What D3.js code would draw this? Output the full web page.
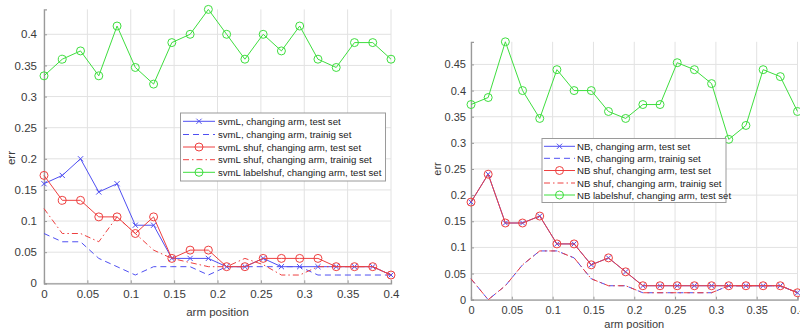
<!DOCTYPE html>
<html><head><meta charset="utf-8">
<script src="https://cdn.jsdelivr.net/npm/d3@7"></script>
<style>body{margin:0;background:#fff}svg{display:block}text{font-family:"Liberation Sans",Arial,Helvetica,sans-serif}</style>
</head><body><svg id="c" width="800" height="329"></svg>
<script>
const armPos = [0, 0.02105, 0.04211, 0.06316, 0.08421, 0.10526, 0.12632, 0.14737, 0.16842, 0.18947, 0.21053, 0.23158, 0.25263, 0.27368, 0.29474, 0.31579, 0.33684, 0.35789, 0.37895, 0.4];
const xTicks = [0, 0.05, 0.1, 0.15, 0.2, 0.25, 0.3, 0.35, 0.4];
const yTicksL = [0, 0.05, 0.1, 0.15, 0.2, 0.25, 0.3, 0.35, 0.4];
const yTicksR = [0, 0.05, 0.1, 0.15, 0.2, 0.25, 0.3, 0.35, 0.4, 0.45];

// left panel (svmL)
const svmLTest = [0.16, 0.1733, 0.2, 0.1467, 0.16, 0.0933, 0.0933, 0.04, 0.04, 0.04, 0.0267, 0.0267, 0.04, 0.0267, 0.0267, 0.0267, 0.0267, 0.0267, 0.0267, 0.0133];
const svmLTrain = [0.08, 0.0667, 0.0667, 0.04, 0.0267, 0.0133, 0.0267, 0.0267, 0.0267, 0.0133, 0.0267, 0.0267, 0.0267, 0.0267, 0.0267, 0.0133, 0.0133, 0.0133, 0.0133, 0.0133];
const svmLShufTest = [0.1733, 0.1333, 0.1333, 0.1067, 0.1067, 0.08, 0.1067, 0.04, 0.0533, 0.0533, 0.0267, 0.0267, 0.04, 0.04, 0.04, 0.04, 0.0267, 0.0267, 0.0267, 0.0133];
const svmLShufTrain = [0.12, 0.08, 0.08, 0.0667, 0.1067, 0.08, 0.0533, 0.04, 0.0333, 0.0267, 0.0267, 0.04, 0.03, 0.0133, 0.0133, 0.0267, 0.0267, 0.0267, 0.0267, 0.0133];
const svmLLabelShuf = [0.3333, 0.36, 0.3733, 0.3333, 0.4133, 0.3467, 0.32, 0.3867, 0.4, 0.44, 0.4, 0.36, 0.4, 0.3733, 0.4133, 0.36, 0.3467, 0.3867, 0.3867, 0.36];
const svmLNames = ["svmL, changing arm, test set", "svmL, changing arm, trainig set", "svmL shuf, changing arm, test set", "svmL shuf, changing arm, trainig set", "svmL labelshuf, changing arm, test set"];

// right panel (NB)
const nbTest = [0.1867, 0.24, 0.1467, 0.1467, 0.16, 0.1067, 0.1067, 0.0667, 0.08, 0.0533, 0.0267, 0.0267, 0.0267, 0.0267, 0.0267, 0.0267, 0.0267, 0.0267, 0.0267, 0.0133];
const nbTrain = [0.04, 0, 0.0267, 0.0667, 0.0933, 0.0933, 0.08, 0.04, 0.0267, 0.0267, 0.0133, 0.0133, 0.0133, 0.0133, 0.0133, 0.0267, 0.0267, 0.0267, 0.0267, 0.0133];
const nbShufTest = [0.1867, 0.24, 0.1467, 0.1467, 0.16, 0.1067, 0.1067, 0.0667, 0.08, 0.0533, 0.0267, 0.0267, 0.0267, 0.0267, 0.0267, 0.0267, 0.0267, 0.0267, 0.0267, 0.0133];
const nbShufTrain = [0.04, 0, 0.0267, 0.0667, 0.0933, 0.0933, 0.08, 0.04, 0.0267, 0.0267, 0.0133, 0.0133, 0.0133, 0.0133, 0.0133, 0.0267, 0.0267, 0.0267, 0.0267, 0.0133];
const nbLabelShuf = [0.3733, 0.3867, 0.4933, 0.4, 0.3467, 0.44, 0.4, 0.4, 0.36, 0.3467, 0.3733, 0.3733, 0.4533, 0.44, 0.4133, 0.3067, 0.3333, 0.44, 0.4267, 0.36];
const nbNames = ["NB, changing arm, test set", "NB, changing arm, trainig set", "NB shuf, changing arm, test set", "NB shuf, changing arm, trainig set", "NB labelshuf, changing arm, test set"];

const BLUE = "#4f4ff2", RED = "#ee4040", GREEN = "#3ede3e";
const styles = [
  {color: BLUE, dash: null, marker: "x"},
  {color: BLUE, dash: "6,4", marker: null},
  {color: RED, dash: null, marker: "o"},
  {color: RED, dash: "6,3,1.5,3", marker: null},
  {color: GREEN, dash: null, marker: "o"}
];

const svg = d3.select("#c");

function panel(cfg) {
  const x = d3.scaleLinear().domain([0, 0.4]).range(cfg.xr);
  const y = d3.scaleLinear().domain(cfg.yd).range(cfg.yr);
  const g = svg.append("g");
  g.append("g").selectAll("line").data(xTicks).join("line")
    .attr("x1", d => x(d)).attr("x2", d => x(d)).attr("y1", cfg.yr[0]).attr("y2", cfg.yr[1])
    .attr("stroke", "#e2e2e2").attr("stroke-width", 1);
  g.append("g").selectAll("line").data(cfg.yTicks).join("line")
    .attr("x1", cfg.xr[0]).attr("x2", cfg.xr[1]).attr("y1", d => y(d)).attr("y2", d => y(d))
    .attr("stroke", "#e2e2e2").attr("stroke-width", 1);
  const xa = g.append("g").attr("transform", `translate(0,${cfg.yr[0]})`)
    .call(d3.axisBottom(x).tickValues(xTicks).tickFormat(d3.format("~g")).tickSize(-3).tickPadding(7));
  const ya = g.append("g").attr("transform", `translate(${cfg.xr[0]},0)`)
    .call(d3.axisLeft(y).tickValues(cfg.yTicks).tickFormat(d3.format("~g")).tickSize(-3).tickPadding(cfg.yPad));
  [xa, ya].forEach(a => {
    a.select(".domain").attr("stroke", "#9a9a9a").attr("stroke-width", 1.3);
    a.selectAll(".tick line").attr("stroke", "#9a9a9a");
    a.selectAll(".tick text").attr("fill", "#3a3a3a").style("font-size", cfg.fs);
  });
  xa.selectAll(".tick text").attr("dy", "0.71em");
  g.append("text").attr("x", (cfg.xr[0] + cfg.xr[1]) / 2).attr("y", cfg.xlabY)
    .attr("text-anchor", "middle").attr("dominant-baseline", "central")
    .attr("fill", "#3a3a3a").style("font-size", cfg.fs).text("arm position");
  g.append("text").attr("transform", `translate(${cfg.ylab[0]},${cfg.ylab[1]}) rotate(-90)`)
    .attr("text-anchor", "middle").attr("dominant-baseline", "central")
    .attr("fill", "#3a3a3a").style("font-size", cfg.fs).text("err");
  const line = d3.line().x((d, i) => x(armPos[i])).y(d => y(d));
  cfg.series.forEach((s, k) => {
    const st = styles[k];
    const sg = g.append("g");
    sg.append("path").datum(s).attr("d", line).attr("fill", "none")
      .attr("stroke", st.color).attr("stroke-width", 1).attr("stroke-dasharray", st.dash);
    if (st.marker === "o") {
      sg.selectAll("circle").data(s).join("circle")
        .attr("cx", (d, i) => x(armPos[i])).attr("cy", d => y(d)).attr("r", 4)
        .attr("fill", "none").attr("stroke", st.color).attr("stroke-width", 1);
    } else if (st.marker === "x") {
      sg.selectAll("path.m").data(s).join("path").attr("class", "m")
        .attr("d", (d, i) => { const cx = x(armPos[i]), cy = y(d), r = 2.6;
          return `M${cx-r},${cy-r}L${cx+r},${cy+r}M${cx-r},${cy+r}L${cx+r},${cy-r}`; })
        .attr("stroke", st.color).attr("stroke-width", 1).attr("fill", "none");
    }
  });
  const L = cfg.legend;
  const lg = g.append("g");
  lg.append("rect").attr("x", L.x).attr("y", L.y).attr("width", L.w).attr("height", L.h)
    .attr("fill", "#fff").attr("stroke", "#9a9a9a").attr("stroke-width", 1);
  cfg.names.forEach((n, k) => {
    const st = styles[k], ry = L.rows[k];
    lg.append("line").attr("x1", L.l0).attr("x2", L.l1).attr("y1", ry).attr("y2", ry)
      .attr("stroke", st.color).attr("stroke-width", 1).attr("stroke-dasharray", st.dash);
    const mx = (L.l0 + L.l1) / 2;
    if (st.marker === "o") lg.append("circle").attr("cx", mx).attr("cy", ry).attr("r", 4)
      .attr("fill", "none").attr("stroke", st.color);
    if (st.marker === "x") { const r = 2.6; lg.append("path")
      .attr("d", `M${mx-r},${ry-r}L${mx+r},${ry+r}M${mx-r},${ry+r}L${mx+r},${ry-r}`).attr("stroke", st.color); }
    lg.append("text").attr("x", L.tx).attr("y", ry).attr("dominant-baseline", "central")
      .attr("fill", "#222").style("font-size", "9.6px").text(n);
  });
}

panel({xr: [44, 391], yr: [283.3, 9.4], yd: [0, 0.44], yTicks: yTicksL, xlabY: 311.5, ylab: [10.5, 158],
  fs: "11.5px", yPad: 7,
  series: [svmLTest, svmLTrain, svmLShufTest, svmLShufTrain, svmLLabelShuf], names: svmLNames,
  legend: {x: 180.5, y: 113, w: 205, h: 68, l0: 183, l1: 215, tx: 218, rows: [121.3, 134.5, 147, 159.7, 172.3]}});
panel({xr: [471, 797.5], yr: [299.7, 41.8], yd: [0, 0.4933], yTicks: yTicksR, xlabY: 324, ylab: [437, 169],
  fs: "11px", yPad: 5,
  series: [nbTest, nbTrain, nbShufTest, nbShufTrain, nbLabelShuf], names: nbNames,
  legend: {x: 542, y: 138.5, w: 184, h: 64, l0: 544, l1: 575, tx: 577, rows: [146.3, 158.3, 170.5, 183, 195]}});
</script></body></html>
